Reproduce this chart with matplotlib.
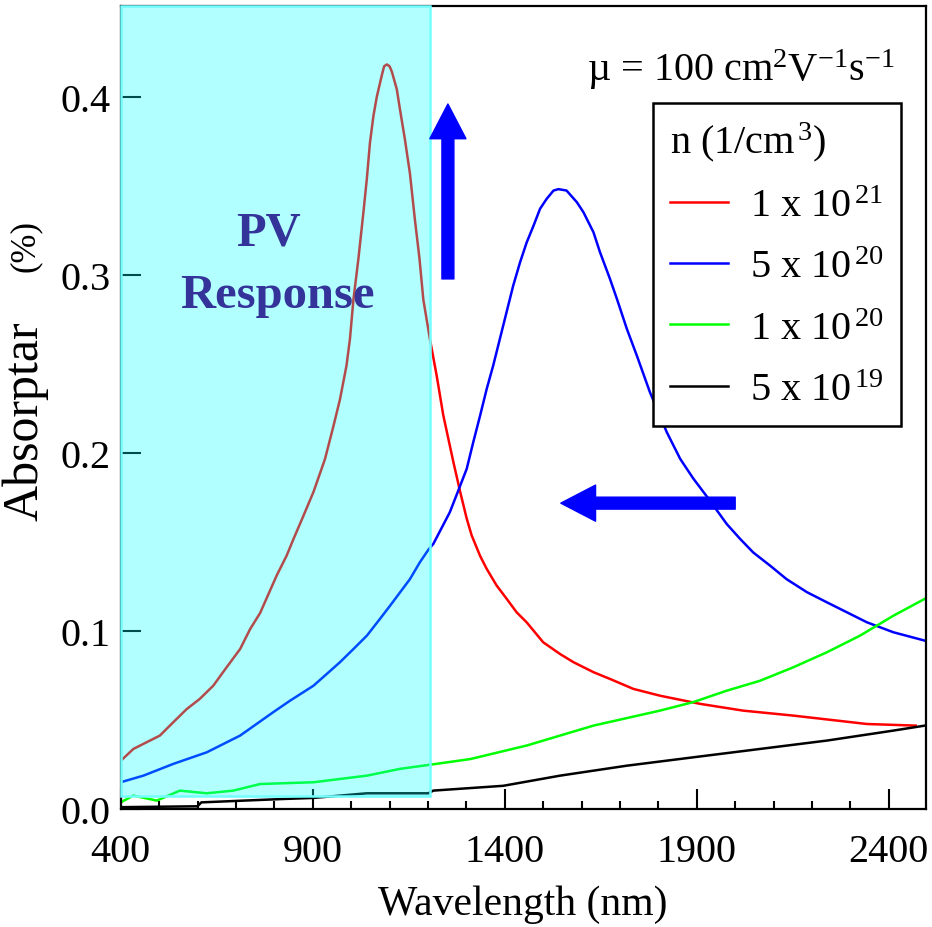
import matplotlib
matplotlib.use('Agg')
import matplotlib.pyplot as plt
from matplotlib.patches import Rectangle, FancyArrowPatch
from matplotlib.ticker import MultipleLocator

plt.rcParams['font.family'] = ['Liberation Serif', 'DejaVu Serif']
plt.rcParams['mathtext.fontset'] = 'custom'
plt.rcParams['mathtext.rm'] = 'Liberation Serif'
plt.rcParams['mathtext.it'] = 'Liberation Serif:italic'
plt.rcParams['mathtext.bf'] = 'Liberation Serif:bold'

# data (wavelength nm, absorptance %)
wl_1e21 = [400, 433, 502, 537, 572, 606, 641, 676, 711, 737, 763, 806, 832, 850, 876, 902,
           932, 954, 971, 988, 997, 1006, 1019, 1032, 1041, 1049, 1058, 1067, 1080, 1086,
           1093, 1100, 1106, 1119, 1127, 1140, 1153, 1166, 1178, 1188, 1205, 1223, 1240,
           1266, 1284, 1301, 1314, 1336, 1353, 1379, 1405, 1431, 1457, 1500, 1544, 1579,
           1631, 1674, 1735, 1804, 1909, 2021, 2152, 2343, 2470]
ab_1e21 = [0.027, 0.0337, 0.0412, 0.0487, 0.0561, 0.0618, 0.0692, 0.0796, 0.0898, 0.101,
           0.110, 0.131, 0.1422, 0.1516, 0.1647, 0.178, 0.1965, 0.215, 0.230, 0.249, 0.264,
           0.286, 0.309, 0.335, 0.354, 0.374, 0.389, 0.400, 0.412, 0.417, 0.418, 0.417,
           0.414, 0.404, 0.393, 0.376, 0.357, 0.331, 0.309, 0.286, 0.264, 0.243, 0.221,
           0.195, 0.178, 0.163, 0.1535, 0.142, 0.1348, 0.1254, 0.118, 0.1104, 0.1048,
           0.0936, 0.087, 0.0824, 0.0768, 0.073, 0.0674, 0.0636, 0.059, 0.0552, 0.0524,
           0.0477, 0.0468]

wl_5e20 = [400, 459, 537, 624, 711, 797, 841, 902, 971, 1006, 1041, 1075, 1101, 1153, 1179,
           1201, 1214, 1257, 1284, 1301, 1318, 1336, 1353, 1370, 1396, 1422, 1440, 1457,
           1475, 1492, 1509, 1527, 1540, 1561, 1588, 1605, 1631, 1648, 1674, 1692, 1718,
           1744, 1778, 1822, 1857, 1891, 1926, 1978, 2013, 2047, 2091, 2134, 2187, 2239,
           2291, 2343, 2412, 2494]
ab_5e20 = [0.015, 0.0187, 0.0253, 0.0318, 0.0412, 0.0543, 0.0608, 0.0692, 0.0824, 0.0898,
           0.0973, 0.1067, 0.114, 0.129, 0.1385, 0.1455, 0.1488, 0.1666, 0.1815, 0.191,
           0.2059, 0.221, 0.2358, 0.249, 0.2714, 0.2938, 0.307, 0.318, 0.3275, 0.337,
           0.3425, 0.3472, 0.348, 0.3472, 0.3406, 0.335, 0.3238, 0.3126, 0.2976, 0.2864,
           0.2695, 0.2545, 0.234, 0.2115, 0.1965, 0.1855, 0.1755, 0.160, 0.1516, 0.144,
           0.1366, 0.129, 0.1217, 0.116, 0.1104, 0.1048, 0.0992, 0.0945]

wl_1e20 = [400, 433, 494, 554, 624, 693, 763, 902, 1041, 1127, 1201, 1310, 1457, 1631,
           1804, 1891, 1978, 2065, 2152, 2239, 2325, 2412, 2494]
ab_1e20 = [0.0037, 0.0075, 0.0047, 0.0103, 0.0088, 0.0103, 0.014, 0.015, 0.0187, 0.0225,
           0.0247, 0.028, 0.0356, 0.0468, 0.0552, 0.060, 0.0664, 0.072, 0.0796, 0.088,
           0.0973, 0.1085, 0.118]

wl_5e19 = [400, 600, 610, 823, 902, 1041, 1201, 1214, 1396, 1544, 1718, 1891, 2065, 2239,
           2412, 2494]
ab_5e19 = [0.001, 0.0015, 0.0037, 0.0056, 0.0062, 0.0088, 0.0088, 0.0103, 0.013, 0.0187,
           0.0243, 0.029, 0.0337, 0.0384, 0.044, 0.0468]

labels = ['1 x 10$^{\\,21}$', '5 x 10$^{\\,20}$', '1 x 10$^{\\,20}$', '5 x 10$^{\\,19}$']
colors = ['#ff0000', '#0000ff', '#00ff00', '#000000']

fig = plt.figure(figsize=(9.32, 9.28), dpi=100)
ax = fig.add_axes([0.1295, 0.1272, 0.8637, 0.8656])

series = [(wl_1e21, ab_1e21), (wl_5e20, ab_5e20), (wl_1e20, ab_1e20), (wl_5e19, ab_5e19)]
for (x, y), lab, c in zip(series, labels, colors):
    ax.plot(x, y, color=c, lw=1.8, label=lab)

ax.set_xlim(400, 2496)
ax.set_ylim(0, 0.451)
ax.xaxis.set_major_locator(MultipleLocator(500))
ax.xaxis.set_minor_locator(MultipleLocator(100))
ax.set_xticks([400, 900, 1400, 1900, 2400])
ax.set_yticks([0.0, 0.1, 0.2, 0.3, 0.4])
ax.set_yticklabels(['0.0', '0.1', '0.2', '0.3', '0.4'])
ax.tick_params(axis='both', which='major', direction='in', length=14.5, width=1.5,
               labelsize=29)
ax.tick_params(axis='x', which='minor', direction='in', length=6, width=1.5)
ax.tick_params(axis='x', pad=17)
ax.tick_params(axis='y', pad=7)
for s in ax.spines.values():
    s.set_linewidth(1.6)

ax.set_xlabel('Wavelength (nm)', fontsize=30, labelpad=11)
fig.text(0.027, (928 - 421) / 928, 'Absorptar', rotation=90, fontsize=36,
         ha='center', va='center')
fig.text(0.027, (928 - 246) / 928, '(%)', rotation=90, fontsize=25,
         ha='center', va='center')

# PV response band
ax.add_patch(Rectangle((400, 0.0073), 805, 0.451 - 0.0073, facecolor=(0, 1, 1, 0.3),
                       edgecolor=(0.45, 1, 1), lw=1.8, zorder=3, clip_on=False))
ax.text(786, 0.317, 'PV', fontsize=35, fontweight='bold', color='#333399',
        ha='center', va='baseline', zorder=4)
ax.text(808, 0.282, 'Response', fontsize=35, fontweight='bold', color='#333399',
        ha='center', va='baseline', zorder=4)

# shift arrows
arrow_kw = dict(arrowstyle='simple,head_length=25,head_width=26,tail_width=8.6',
                mutation_scale=1, color='#0000ff', shrinkA=0, shrinkB=0, zorder=4)
ax.add_patch(FancyArrowPatch((1252, 0.2976), (1252, 0.3958), **arrow_kw))
ax.add_patch(FancyArrowPatch((2000, 0.1717), (1546, 0.1717), **arrow_kw))

ax.text(0.962, 0.907, 'µ = 100 cm$^{2}$V$^{-1}$s$^{-1}$', transform=ax.transAxes,
        fontsize=29, ha='right', va='baseline')

leg = ax.legend(loc='upper right', bbox_to_anchor=(0.969, 0.879), fontsize=29,
                title='n (1/cm$^{\\,3}$)', title_fontsize=29, alignment='left',
                frameon=True, fancybox=False, framealpha=1, edgecolor='black',
                borderaxespad=0, borderpad=0.42, labelspacing=0.6, handlelength=1.45,
                handletextpad=0.55)
leg.get_frame().set_linewidth(1.8)

fig.savefig('out.png', dpi=100)
